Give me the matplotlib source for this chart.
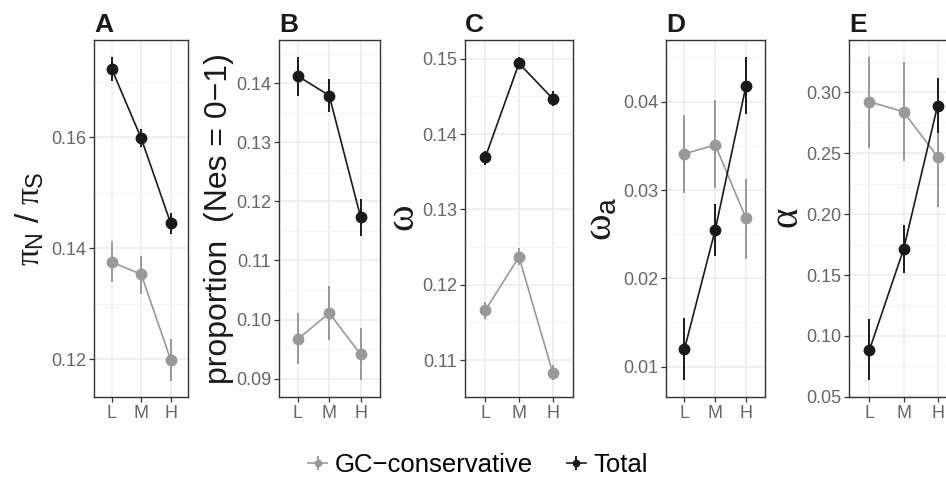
import matplotlib
matplotlib.use("Agg")
import matplotlib.pyplot as plt
from matplotlib.ticker import MultipleLocator
from matplotlib.container import ErrorbarContainer
from matplotlib.legend_handler import HandlerErrorbar
import numpy as np

plt.rcParams['font.family'] = ['Liberation Sans', 'DejaVu Sans']
plt.rcParams['mathtext.fontset'] = 'custom'
plt.rcParams['mathtext.rm'] = 'Liberation Sans'
plt.rcParams['mathtext.it'] = 'Liberation Serif'   # upright serif greek like the Symbol font

categories = ["L", "M", "H"]

# ---- data: mean, lower, upper per category ----
A_total = [0.1723, 0.1598, 0.1445]
A_total_lo = [0.1701, 0.1583, 0.1425]
A_total_hi = [0.1745, 0.1614, 0.1464]
A_gc = [0.1375, 0.1353, 0.1199]
A_gc_lo = [0.1339, 0.1318, 0.1161]
A_gc_hi = [0.1413, 0.1386, 0.1237]

B_total = [0.1412, 0.1379, 0.1173]
B_total_lo = [0.1379, 0.1352, 0.1141]
B_total_hi = [0.1445, 0.1407, 0.1204]
B_gc = [0.0967, 0.1011, 0.0941]
B_gc_lo = [0.0925, 0.0966, 0.0897]
B_gc_hi = [0.1011, 0.1056, 0.0985]

C_total = [0.1369, 0.1494, 0.1447]
C_total_lo = [0.1359, 0.1488, 0.1437]
C_total_hi = [0.1377, 0.1502, 0.1457]
C_gc = [0.1166, 0.1237, 0.1083]
C_gc_lo = [0.1155, 0.1226, 0.1073]
C_gc_hi = [0.1177, 0.1249, 0.1093]

D_total = [0.0120, 0.0255, 0.0418]
D_total_lo = [0.0085, 0.0225, 0.0386]
D_total_hi = [0.0155, 0.0284, 0.0451]
D_gc = [0.0341, 0.0351, 0.0268]
D_gc_lo = [0.0297, 0.0302, 0.0222]
D_gc_hi = [0.0385, 0.0402, 0.0312]

E_total = [0.0885, 0.1710, 0.2890]
E_total_lo = [0.0637, 0.1513, 0.2668]
E_total_hi = [0.1143, 0.1910, 0.3115]
E_gc = [0.2923, 0.2841, 0.2471]
E_gc_lo = [0.2545, 0.2438, 0.2060]
E_gc_hi = [0.3292, 0.3251, 0.2828]

col_total = "#1a1a1a"
col_gc = "#999999"

W, H = 946, 480
fig = plt.figure(figsize=(W / 100, H / 100), dpi=100)

def px_axes(left, width, top=40, bottom=397):
    return fig.add_axes([left / W, (H - bottom) / H, width / W, (bottom - top) / H])

panels = [
    # letter, left px, width px, total, gc, ylim, major step, ylabel, label x px, label size
    ("A", 94, 94.4, (A_total, A_total_lo, A_total_hi), (A_gc, A_gc_lo, A_gc_hi),
     (0.1132, 0.1775), 0.02, r"$\pi_{\mathrm{N}}\ \mathrm{/}\ \pi_{\mathrm{S}}$", 30, 24),
    ("B", 279, 100.5, (B_total, B_total_lo, B_total_hi), (B_gc, B_gc_lo, B_gc_hi),
     (0.0869, 0.1473), 0.01, "proportion  (Nes = 0\u22121)", 219, 23),
    ("C", 465, 108, (C_total, C_total_lo, C_total_hi), (C_gc, C_gc_lo, C_gc_hi),
     (0.1051, 0.1525), 0.01, r"$\omega$", 403, 29),
    ("D", 666, 98.5, (D_total, D_total_lo, D_total_hi), (D_gc, D_gc_lo, D_gc_hi),
     (0.00657, 0.04698), 0.01, r"$\omega_{\mathrm{a}}$", 600, 29),
    ("E", 849, 109, (E_total, E_total_lo, E_total_hi), (E_gc, E_gc_lo, E_gc_hi),
     (0.0499, 0.343), 0.05, r"$\alpha$", 788, 28),
]

x = np.arange(len(categories))
handles = None
for letter, left, width, tot, gc, ylim, major, ylabel, lab_x, lab_size in panels:
    ax = px_axes(left, width)
    ax.set_xlim(-0.6, 2.6)
    ax.set_ylim(*ylim)
    ax.yaxis.set_major_locator(MultipleLocator(major))
    ax.yaxis.set_minor_locator(MultipleLocator(major / 2))
    ax.yaxis.set_major_formatter(plt.FuncFormatter(lambda v, p: "%.2f" % v))
    ax.set_xticks(x)
    ax.set_xticklabels(categories)
    ax.grid(True, which="major", color="#ebebeb", linewidth=1.1)
    ax.grid(True, which="minor", axis="y", color="#f2f2f2", linewidth=0.6)
    ax.set_axisbelow(True)
    for sp in ax.spines.values():
        sp.set_color("#333333")
        sp.set_linewidth(1.0)
    ax.tick_params(which="major", length=3.5, width=0.9, color="#333333",
                   labelsize=13, labelcolor="#666666", pad=2)
    ax.tick_params(which="minor", length=0)

    res = []
    for (m, lo, hi), col in ((gc, col_gc), (tot, col_total)):
        m = np.array(m)
        err = np.array([m - np.array(lo), np.array(hi) - m])
        eb = ax.errorbar(x, m, yerr=err, color=col, marker="o", markersize=7.5,
                         linewidth=1.2, elinewidth=1.4, capsize=0)
        res.append(eb)
    if handles is None:
        handles = res

    ax.text(0.0, 1.022, letter, transform=ax.transAxes, fontsize=19,
            fontweight="bold", color="#1a1a1a", ha="left", va="baseline")
    fig.text(lab_x / W, 1 - 218.5 / H, ylabel, rotation=90, ha="center",
             va="center", fontsize=lab_size, color="#1a1a1a")

fig.legend(handles, ["GC\u2212conservative", "Total"], loc="center",
           bbox_to_anchor=(478 / W, 1 - 465 / H), ncol=2, frameon=False,
           fontsize=18.5, markerscale=0.6, handlelength=0.75, handletextpad=0.3,
           columnspacing=1.3,
           handler_map={ErrorbarContainer: HandlerErrorbar(xerr_size=0.5, yerr_size=0.27)})

fig.savefig("out.png", dpi=100)
